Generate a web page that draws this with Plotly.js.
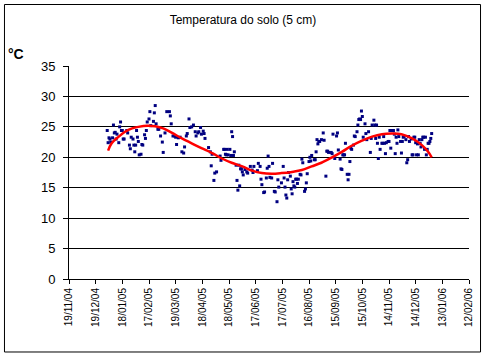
<!DOCTYPE html>
<html>
<head>
<meta charset="utf-8">
<script src="https://cdn.plot.ly/plotly-3.0.1.min.js"></script>
<style>html,body{margin:0;padding:0;background:#fff;}#chart{width:486px;height:356px;}</style>
</head>
<body>
<div id="chart"></div>
<script>
// Daily soil temperature (5 cm), 2005
const obsDates = [
'2005-01-01','2005-01-02','2005-01-03','2005-01-04','2005-01-05','2005-01-07','2005-01-08','2005-01-09','2005-01-10','2005-01-11','2005-01-12','2005-01-14','2005-01-15','2005-01-16','2005-01-17','2005-01-18','2005-01-19','2005-01-20','2005-01-23','2005-01-24','2005-01-26','2005-01-27','2005-01-28','2005-01-30','2005-01-31',
'2005-02-01','2005-02-02','2005-02-03','2005-02-04','2005-02-05','2005-02-06','2005-02-08','2005-02-09','2005-02-10','2005-02-12','2005-02-13','2005-02-14','2005-02-15','2005-02-17','2005-02-18','2005-02-19','2005-02-22','2005-02-23','2005-02-24','2005-02-25','2005-02-27','2005-02-28',
'2005-03-02','2005-03-04','2005-03-05','2005-03-07','2005-03-09','2005-03-12','2005-03-13','2005-03-14','2005-03-16','2005-03-18','2005-03-19','2005-03-20','2005-03-22','2005-03-24','2005-03-26','2005-03-28','2005-03-29','2005-03-31',
'2005-04-01','2005-04-03','2005-04-04','2005-04-06','2005-04-08','2005-04-10','2005-04-11','2005-04-13','2005-04-14','2005-04-16','2005-04-17','2005-04-19','2005-04-20','2005-04-21','2005-04-25','2005-04-27','2005-04-28','2005-04-29',
'2005-05-01','2005-05-02','2005-05-04','2005-05-08','2005-05-09','2005-05-12','2005-05-13','2005-05-14','2005-05-15','2005-05-16','2005-05-17','2005-05-19','2005-05-20','2005-05-21','2005-05-22','2005-05-23','2005-05-24','2005-05-26','2005-05-27','2005-05-28','2005-05-29','2005-05-30','2005-05-31',
'2005-06-01','2005-06-02','2005-06-03','2005-06-05','2005-06-07','2005-06-08','2005-06-11','2005-06-13','2005-06-14','2005-06-15','2005-06-19','2005-06-20','2005-06-22','2005-06-23','2005-06-24','2005-06-26','2005-06-27','2005-06-29','2005-06-30',
'2005-07-01','2005-07-02','2005-07-03','2005-07-05','2005-07-06','2005-07-08','2005-07-09','2005-07-11','2005-07-12','2005-07-13','2005-07-16','2005-07-18','2005-07-19','2005-07-20','2005-07-21','2005-07-22','2005-07-23','2005-07-24','2005-07-26','2005-07-27','2005-07-28','2005-07-29','2005-07-30','2005-07-31',
'2005-08-01','2005-08-02','2005-08-03','2005-08-04','2005-08-06','2005-08-07','2005-08-08','2005-08-09','2005-08-11','2005-08-12','2005-08-13','2005-08-14','2005-08-16','2005-08-17','2005-08-18','2005-08-19','2005-08-22','2005-08-23','2005-08-24','2005-08-25','2005-08-26','2005-08-27','2005-08-28','2005-08-30',
'2005-09-01','2005-09-02','2005-09-04','2005-09-05','2005-09-06','2005-09-07','2005-09-10','2005-09-11','2005-09-12','2005-09-14','2005-09-16','2005-09-17','2005-09-18','2005-09-20','2005-09-21','2005-09-22','2005-09-23','2005-09-24','2005-09-25','2005-09-26','2005-09-28','2005-09-29','2005-09-30',
'2005-10-01','2005-10-02','2005-10-03','2005-10-05','2005-10-06','2005-10-07','2005-10-09','2005-10-10','2005-10-11','2005-10-12','2005-10-13','2005-10-14','2005-10-15','2005-10-16','2005-10-18','2005-10-19','2005-10-20','2005-10-22','2005-10-24','2005-10-25','2005-10-26','2005-10-28','2005-10-29','2005-10-30','2005-10-31',
'2005-11-01','2005-11-02','2005-11-03','2005-11-04','2005-11-06','2005-11-07','2005-11-08','2005-11-09','2005-11-10','2005-11-11','2005-11-13','2005-11-14','2005-11-15','2005-11-16','2005-11-17','2005-11-19','2005-11-20','2005-11-21','2005-11-22','2005-11-23','2005-11-24','2005-11-25','2005-11-27','2005-11-28','2005-11-29','2005-11-30',
'2005-12-01','2005-12-03','2005-12-04','2005-12-05','2005-12-06','2005-12-07','2005-12-09','2005-12-10','2005-12-11','2005-12-12','2005-12-13','2005-12-14','2005-12-15','2005-12-16','2005-12-17','2005-12-18','2005-12-19','2005-12-20','2005-12-21','2005-12-22','2005-12-23','2005-12-24','2005-12-25','2005-12-26','2005-12-27','2005-12-28','2005-12-29','2005-12-30','2005-12-31','2006-01-01'
];
const obsTemps = [
24.4,22.4,23.2,23.0,22.5,23.2,25.3,24.0,24.1,23.0,23.8,22.4,25.0,25.8,24.4,24.4,23.0,23.0,24.4,24.0,22.0,21.4,23.3,23.0,22.0,
20.9,22.0,24.4,23.3,22.6,20.4,20.5,22.1,22.0,23.7,23.1,24.4,25.8,26.3,27.5,25.2,25.9,27.3,28.5,25.5,24.6,24.6,
23.5,22.5,20.8,24.0,27.5,27.5,26.8,25.5,23.5,23.5,23.3,22.1,23.2,23.3,20.9,20.7,21.7,23.5,
23.9,26.3,24.9,25.0,25.3,24.2,23.5,24.0,24.2,24.9,23.8,24.3,23.9,23.1,21.6,20.9,18.6,20.5,
16.2,17.4,17.6,20.2,19.5,21.3,21.3,20.5,20.4,21.3,20.4,21.3,20.3,24.2,23.4,20.3,20.9,18.7,16.2,14.6,18.7,15.3,18.1,
18.1,17.6,17.1,18.0,17.6,17.4,18.5,17.9,17.5,18.5,17.8,19.0,18.5,16.4,15.5,14.2,14.3,16.6,18.2,
20.2,18.5,16.7,16.6,19.0,14.4,14.3,12.7,16.3,15.1,15.8,18.5,16.6,15.1,13.8,13.3,16.3,17.5,16.9,14.8,14.0,16.0,15.3,15.1,
16.4,16.4,15.7,16.4,17.2,17.1,19.7,19.1,14.4,14.8,15.8,17.3,19.3,20.0,19.4,20.3,19.6,19.6,20.9,22.9,22.2,22.6,22.6,22.9,
24.0,22.8,16.9,21.0,21.0,20.8,20.8,20.6,23.8,19.8,23.5,24.0,21.2,19.7,18.1,18.0,20.4,20.4,20.4,22.3,17.2,16.3,17.2,
19.3,21.5,21.3,22.0,23.5,23.4,24.2,25.3,26.2,26.3,26.2,27.6,26.7,23.3,25.5,23.9,22.9,24.2,20.8,23.1,25.3,26.1,25.3,23.1,25.3,
22.3,19.8,23.3,21.3,22.3,22.3,23.4,22.3,20.6,22.4,22.6,22.6,24.4,21.5,24.4,24.4,23.8,20.6,23.3,22.3,24.5,23.4,22.6,20.7,22.6,23.3,
23.4,22.9,19.1,19.6,23.4,22.6,23.0,20.4,20.4,23.3,23.3,22.4,20.4,22.2,20.4,22.9,22.3,21.7,22.9,23.3,23.3,21.3,23.3,20.4,21.3,22.3,22.3,22.6,23.1,23.9
];
// Polynomial trend line
const trendDates = ['2005-01-02','2005-01-06','2005-01-14','2005-01-21','2005-01-29','2005-02-05','2005-02-15','2005-02-24','2005-03-05','2005-03-15','2005-03-26','2005-04-06','2005-04-17','2005-04-29','2005-05-10','2005-05-21','2005-06-02','2005-06-13','2005-06-24','2005-07-05','2005-07-16','2005-07-28','2005-08-08','2005-08-19','2005-08-30','2005-09-11','2005-09-22','2005-10-03','2005-10-14','2005-10-26','2005-11-06','2005-11-17','2005-11-28','2005-12-10','2005-12-21','2005-12-28','2006-01-01'];
const trendTemps = [21.1,22.3,23.4,24.2,24.75,25.0,25.2,25.1,24.75,24.0,23.1,22.3,21.5,20.7,19.8,19.1,18.5,17.8,17.4,17.3,17.4,17.6,17.9,18.5,19.1,20.0,20.9,21.9,22.7,23.4,23.8,23.9,23.8,23.1,22.0,20.9,20.0];

const titleText = 'Temperatura do solo (5 cm)';
const unitText = '°C';
const yTicks = [0,5,10,15,20,25,30,35];

const traces = [
  {x: obsDates, y: obsTemps, type: 'scatter', mode: 'markers',
   marker: {symbol: 'square', size: 3, color: '#000080', line: {width: 0}}, showlegend: false},
  {x: trendDates, y: trendTemps, type: 'scatter', mode: 'lines',
   line: {color: '#FF0000', width: 2.5, shape: 'spline', smoothing: 1}, showlegend: false}
];

const layout = {
  width: 486, height: 356,
  margin: {l: 69, r: 17, t: 66, b: 77},
  paper_bgcolor: '#ffffff', plot_bgcolor: '#ffffff',
  font: {family: 'Arial, "Liberation Sans", sans-serif', color: '#000000', size: 11},
  title: {text: titleText, x: 0.5, xref: 'container', xanchor: 'center', y: 0.945, yref: 'container', yanchor: 'middle',
          font: {family: 'Arial, "Liberation Sans", sans-serif', size: 12, color: '#000'}},
  xaxis: {
    type: 'date', range: ['2004-11-19', '2006-02-12'],
    tickmode: 'linear', tick0: '2004-11-19', dtick: 30 * 86400000,
    tickformat: '%d/%m/%y', tickangle: -90,
    ticks: 'outside', ticklen: 4, tickcolor: '#000', tickwidth: 1,
    showline: true, linecolor: '#000', linewidth: 1,
    showgrid: false, zeroline: false,
    tickfont: {family: 'Arial, "Liberation Sans", sans-serif', size: 10, color: '#000'}
  },
  yaxis: {
    range: [0, 35], tickmode: 'array', tickvals: yTicks, ticktext: yTicks.map(String),
    ticks: 'outside', ticklen: 5, tickcolor: '#000', tickwidth: 1,
    ticklabelstandoff: 5,
    showline: true, linecolor: '#000', linewidth: 1,
    showgrid: true, gridcolor: '#000', gridwidth: 1, zeroline: false,
    tickfont: {family: 'Arial, "Liberation Sans", sans-serif', size: 13, color: '#000'}
  },
  annotations: [
    {text: unitText, xref: 'paper', yref: 'paper', x: -0.157, y: 1.056, xanchor: 'left', yanchor: 'middle',
     showarrow: false, font: {family: 'Arial, "Liberation Sans", sans-serif', size: 14, color: '#000', weight: 'bold'}}
  ],
  shapes: [
    {type: 'rect', xref: 'paper', yref: 'paper', x0: -0.1613, x1: 1.0288, y0: -0.3427, y1: 1.2887,
     line: {color: '#000', width: 1}, fillcolor: 'rgba(0,0,0,0)'}
  ]
};

Plotly.newPlot('chart', traces, layout, {displayModeBar: false, staticPlot: true});
</script>
</body>
</html>
